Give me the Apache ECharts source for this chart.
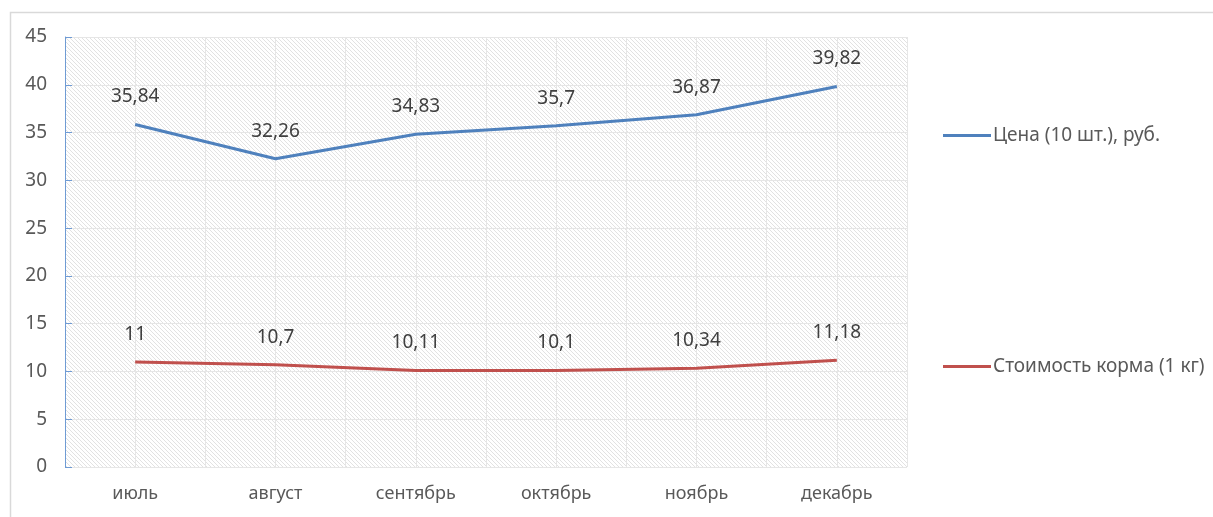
<!DOCTYPE html>
<html>
<head>
<meta charset="utf-8">
<script src="https://cdn.jsdelivr.net/npm/echarts@6/dist/echarts.min.js"></script>
<style>
html, body { margin: 0; padding: 0; background: #fff; }
#main { width: 1213px; height: 517px; }
</style>
</head>
<body>
<div id="main"></div>
<script>
var months = ['июль', 'август', 'сентябрь', 'октябрь', 'ноябрь', 'декабрь'];
var priceName = 'Цена (10 шт.), руб.';
var feedName = 'Стоимость корма (1 кг)';
var priceValues = [35.84, 32.26, 34.83, 35.7, 36.87, 39.82];
var feedValues = [11, 10.7, 10.11, 10.1, 10.34, 11.18];
var halfSteps = ['', '', '', '', '', '', '', '', '', '', '', ''];

// штриховка фона
function hatch() {
	var c = document.createElement('canvas');
	c.width = 4;
	c.height = 4;
	var ctx = c.getContext('2d');
	ctx.fillStyle = '#ffffff';
	ctx.fillRect(0, 0, 4, 4);
	ctx.strokeStyle = '#e2e2e2';
	ctx.lineWidth = 1;
	ctx.beginPath();
	ctx.moveTo(-1, -1); ctx.lineTo(5, 5);
	ctx.moveTo(-1, 3); ctx.lineTo(1, 5);
	ctx.moveTo(3, -1); ctx.lineTo(5, 1);
	ctx.stroke();
	return c;
}

var font = 'Noto Sans';
var chart = echarts.init(document.getElementById('main'));

function fmt(p) {
	return String(p.value).replace('.', ',');
}

chart.setOption({
	animation: false,
	textStyle: { fontFamily: font },
	graphic: [{
		type: 'rect',
		shape: { x: 10.5, y: 12.5, width: 1220, height: 520 },
		style: { fill: 'none', stroke: '#d9d9d9', lineWidth: 1.5 },
		silent: true
	}],
	grid: {
		left: 65, right: 306, top: 37, bottom: 50,
		show: true,
		borderWidth: 0,
		backgroundColor: { image: hatch(), repeat: 'repeat' }
	},
	legend: {
		orient: 'vertical',
		left: 938,
		top: 121,
		itemGap: 212,
		itemWidth: 48,
		itemHeight: 3,
		icon: 'rect',
		textStyle: { fontFamily: font, fontSize: 19, color: '#595959', padding: [0, 0, 0, -3] },
		data: [priceName, feedName]
	},
	xAxis: [{
		type: 'category',
		data: months,
		boundaryGap: true,
		axisLine: { show: false },
		axisTick: { show: false },
		axisLabel: { fontFamily: font, fontSize: 18, color: '#595959', margin: 18 },
		splitLine: { show: false }
	}, {
		type: 'category',
		data: halfSteps,
		boundaryGap: true,
		position: 'bottom',
		axisLine: { show: false },
		axisTick: { show: false },
		axisLabel: { show: false },
		splitLine: { show: true, interval: 0, lineStyle: { color: '#e6e6e6', width: 1 } }
	}],
	yAxis: {
		type: 'value',
		min: 0,
		max: 45,
		interval: 5,
		axisLine: { show: true, lineStyle: { color: '#6f9bd4', width: 1 } },
		axisTick: { show: true, inside: true, length: 7, lineStyle: { color: '#6f9bd4' } },
		axisLabel: { fontFamily: font, fontSize: 19, color: '#595959', margin: 18 },
		splitLine: { show: true, lineStyle: { color: '#e6e6e6', width: 1 } }
	},
	series: [{
		name: priceName,
		type: 'line',
		data: priceValues,
		showSymbol: true,
		symbol: 'circle',
		symbolSize: 0.1,
		itemStyle: { color: '#4f81bd' },
		lineStyle: { color: '#4f81bd', width: 3 },
		label: {
			show: true, position: 'top', distance: 18,
			fontFamily: font, fontSize: 19, color: '#404040',
			formatter: fmt
		}
	}, {
		name: feedName,
		type: 'line',
		data: feedValues,
		showSymbol: true,
		symbol: 'circle',
		symbolSize: 0.1,
		itemStyle: { color: '#c0504d' },
		lineStyle: { color: '#c0504d', width: 3 },
		label: {
			show: true, position: 'top', distance: 18,
			fontFamily: font, fontSize: 19, color: '#404040',
			formatter: fmt
		}
	}]
});
</script>
</body>
</html>
